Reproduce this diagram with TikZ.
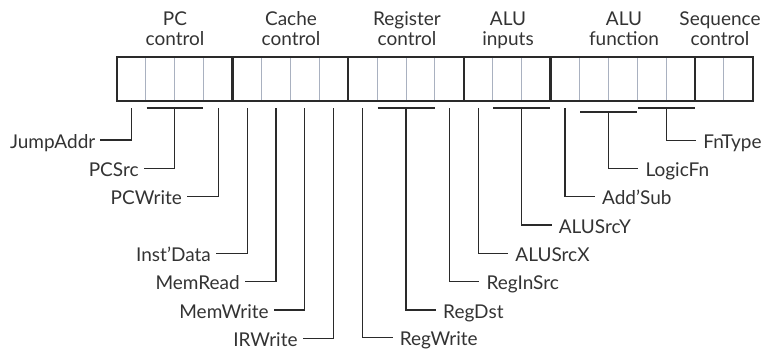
\documentclass[tikz,border=0pt]{standalone}
\usepackage{fontspec}
\setmainfont{Lato}
\usetikzlibrary{calc}
\definecolor{ink}{HTML}{2A2A2A}
\definecolor{tink}{HTML}{333333}
\definecolor{thinc}{HTML}{A9B1C0}
\begin{document}
\begin{tikzpicture}[x=1pt,y=-1pt,
  cell/.style={draw=thinc, line width=0.9pt, minimum width=28.9pt, minimum height=44pt, inner sep=0pt, outer sep=0pt},
  grp/.style={draw=ink, line width=2.3pt},
  wire/.style={draw=ink, line width=1.1pt},
  txt/.style={font=\fontsize{19}{21}\selectfont, text=tink},
  lbl/.style={txt, text height=16.5pt, text depth=0pt, inner ysep=0pt},
  lblL/.style={lbl, anchor=east, inner xsep=5pt},
  lblR/.style={lbl, anchor=west, inner xsep=7pt},
  hdr/.style={txt, anchor=base, inner sep=0pt}]
\useasboundingbox (0,0) rectangle (775,350);
% cells
\foreach \i in {0,...,21}
  \node[cell] (c\i) at ({117+28.9*(\i+0.5)},79) {};
% groups
\draw[grp] (c0.north west) rectangle (c3.south east);
\draw[grp] (c4.north west) rectangle (c7.south east);
\draw[grp] (c8.north west) rectangle (c11.south east);
\draw[grp] (c12.north west) rectangle (c14.south east);
\draw[grp] (c15.north west) rectangle (c19.south east);
\draw[grp] (c20.north west) rectangle (c21.south east);
% headers
\node[hdr] (h1a) at (175,26) {PC};
\node[hdr] (h1b) at (175,46) {control};
\node[hdr] (h2a) at (291,26) {Cache};
\node[hdr] (h2b) at (291,46) {control};
\node[hdr] (h3a) at (407,26) {Register};
\node[hdr] (h3b) at (407,46) {control};
\node[hdr] (h4a) at (508,26) {ALU};
\node[hdr] (h4b) at (508,46) {inputs};
\node[hdr] (h5a) at (624,26) {ALU};
\node[hdr] (h5b) at (624,46) {function};
\node[hdr] (h6a) at (720,26) {Sequence};
\node[hdr] (h6b) at (720,46) {control};
% stem tops
\foreach \i in {0,3,4,5,6,7,8,11,12,15}
  \coordinate (s\i) at ($(c\i.south)+(0,7)$);
\coordinate (s2) at ($(c1.south east)+(0,7)$);
\coordinate (s10) at ($(c9.south east)+(0,7)$);
\coordinate (s14) at ($(c13.south east)+(0,7)$);
\coordinate (s17) at ($(c16.south east)+(0,11)$);
\coordinate (s19) at ($(c18.south east)+(0,7)$);
% brackets
\draw[wire] ($(c1.south west)+(0.6,7)$) -- ($(c2.south east)+(-0.4,7)$);
\draw[wire] ($(c9.south west)+(0.6,7)$) -- ($(c10.south east)+(-0.4,7)$);
\draw[wire] ($(c13.south west)+(0.6,7)$) -- ($(c14.south east)+(-0.4,7)$);
\draw[wire] ($(c16.south west)+(0.6,11)$) -- ($(c17.south east)+(-0.4,11)$);
\draw[wire] ($(c18.south west)+(0.6,7)$) -- ($(c19.south east)+(-0.4,7)$);
% left labels
\node[lblL] (jump) at ([xshift=-31pt]s0 |- 0,140) {JumpAddr};
\node[lblL] (pcsrc) at ([xshift=-31pt]s2 |- 0,168.3) {PCSrc};
\node[lblL] (pcw) at ([xshift=-31pt]s3 |- 0,196.7) {PCWrite};
\node[lblL] (inst) at ([xshift=-31pt]s4 |- 0,253.3) {Inst’Data};
\node[lblL] (memr) at ([xshift=-31pt]s5 |- 0,281.7) {MemRead};
\node[lblL] (memw) at ([xshift=-31pt]s6 |- 0,310) {MemWrite};
\node[lblL] (irw) at ([xshift=-31pt]s7 |- 0,338.3) {IRWrite};
% right labels
\node[lblR] (regw) at ([xshift=30pt]s8 |- 0,337.5) {RegWrite};
\node[lblR] (regd) at ([xshift=30pt]s10 |- 0,310) {RegDst};
\node[lblR] (regin) at ([xshift=30pt]s11 |- 0,281.7) {RegInSrc};
\node[lblR] (srcx) at ([xshift=30pt]s12 |- 0,253.3) {ALUSrcX};
\node[lblR] (srcy) at ([xshift=30pt]s14 |- 0,225) {ALUSrcY};
\node[lblR] (addsub) at ([xshift=30pt]s15 |- 0,196.7) {Add’Sub};
\node[lblR] (logic) at ([xshift=30pt]s17 |- 0,168.3) {LogicFn};
\node[lblR] (fnt) at ([xshift=30pt]s19 |- 0,140.5) {FnType};
% connectors
\draw[wire] (s0) |- (jump.east);
\draw[wire] (s2) |- (pcsrc.east);
\draw[wire] (s3) |- (pcw.east);
\draw[wire] (s4) |- (inst.east);
\draw[wire] (s5) |- (memr.east);
\draw[wire] (s6) |- (memw.east);
\draw[wire] (s7) |- (irw.east);
\draw[wire] (s8) |- (regw.west);
\draw[wire] (s10) |- (regd.west);
\draw[wire] (s11) |- (regin.west);
\draw[wire] (s12) |- (srcx.west);
\draw[wire] (s14) |- (srcy.west);
\draw[wire] (s15) |- (addsub.west);
\draw[wire] (s17) |- (logic.west);
\draw[wire] (s19) |- (fnt.west);
\end{tikzpicture}
\end{document}
